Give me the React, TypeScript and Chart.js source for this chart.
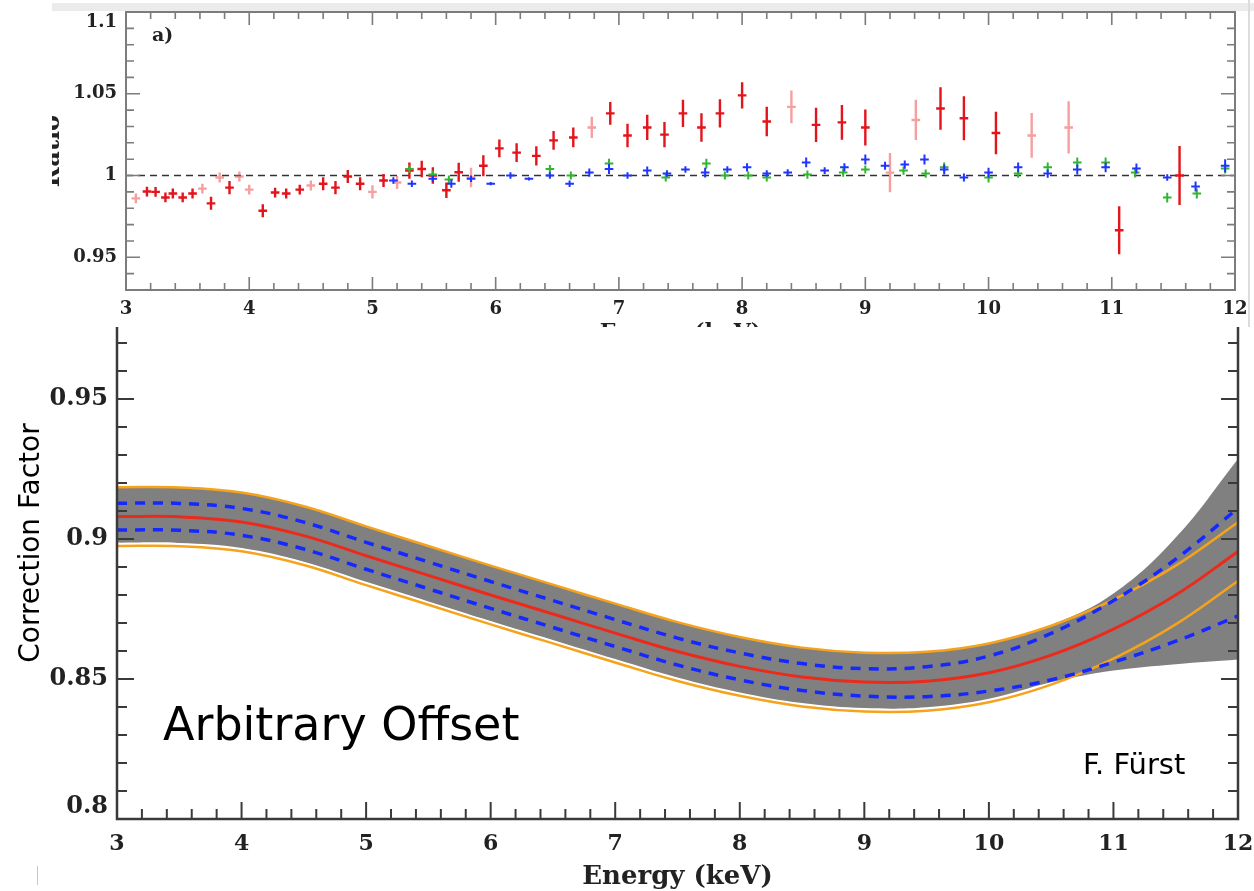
import React, { useEffect, useRef } from 'react';
import { Chart, registerables } from 'chart.js';

Chart.register(...registerables);

const SERIF = "'DejaVu Serif', 'Liberation Serif', serif";
const SANS = "'DejaVu Sans', 'Noto Sans', sans-serif";

// ---------- top panel (ratio) ----------
const ratioXTicks = [3, 4, 5, 6, 7, 8, 9, 10, 11, 12];
const ratioYTicks = [0.95, 1, 1.05, 1.1];

const redEnergy = [3.17, 3.24, 3.32, 3.38, 3.46, 3.54, 3.69, 3.84, 4.11, 4.21, 4.3, 4.41, 4.6, 4.7, 4.8, 4.9, 5.09, 5.3, 5.4, 5.49, 5.6, 5.7, 5.9, 6.03, 6.17, 6.33, 6.47, 6.63, 6.93, 7.07, 7.23, 7.37, 7.52, 7.67, 7.82, 8.0, 8.2, 8.6, 8.81, 9.0, 9.61, 9.8, 10.06, 11.06, 11.55];
const redRatio = [0.9902, 0.99, 0.9866, 0.989, 0.9866, 0.989, 0.983, 0.9926, 0.9785, 0.9896, 0.989, 0.9914, 0.995, 0.9926, 0.9994, 0.995, 0.997, 1.003, 1.004, 1.0, 0.991, 1.002, 1.006, 1.0166, 1.014, 1.012, 1.0215, 1.0233, 1.038, 1.0245, 1.0294, 1.025, 1.038, 1.0294, 1.038, 1.049, 1.033, 1.031, 1.0325, 1.0294, 1.041, 1.035, 1.026, 0.9665, 1.0];
const redError = [0.003, 0.003, 0.003, 0.003, 0.003, 0.003, 0.004, 0.004, 0.004, 0.003, 0.003, 0.003, 0.004, 0.004, 0.004, 0.004, 0.004, 0.005, 0.005, 0.005, 0.0048, 0.0058, 0.0064, 0.0054, 0.0058, 0.0059, 0.0058, 0.006, 0.007, 0.0072, 0.0077, 0.0077, 0.0084, 0.0087, 0.0087, 0.008, 0.009, 0.0105, 0.0106, 0.011, 0.013, 0.0135, 0.013, 0.0147, 0.018];

const redFadedEnergy = [3.08, 3.62, 3.76, 3.92, 4.0, 4.5, 5.0, 5.2, 5.8, 6.78, 8.4, 9.2, 9.41, 10.35, 10.65];
const redFadedRatio = [0.986, 0.992, 0.9988, 0.9994, 0.9914, 0.9939, 0.99, 0.9957, 0.9988, 1.0294, 1.042, 1.0018, 1.034, 1.0245, 1.0294];
const redFadedError = [0.003, 0.003, 0.003, 0.003, 0.003, 0.003, 0.004, 0.004, 0.006, 0.0065, 0.01, 0.012, 0.0123, 0.0137, 0.016];

const greenEnergy = [5.3, 5.49, 5.62, 6.44, 6.61, 6.92, 7.38, 7.71, 7.86, 8.05, 8.2, 8.53, 8.82, 9.0, 9.31, 9.49, 9.64, 10.0, 10.24, 10.48, 10.72, 10.95, 11.19, 11.45, 11.69, 11.92];
const greenRatio = [1.004, 1.0006, 0.9975, 1.004, 1.0, 1.0073, 0.9988, 1.0073, 1.0, 1.0, 0.9988, 1.0006, 1.0018, 1.0037, 1.003, 1.0012, 1.005, 0.9988, 1.0012, 1.005, 1.008, 1.008, 1.0018, 0.9865, 0.989, 1.0043];
const greenError = [0.0025, 0.0025, 0.0025, 0.0025, 0.0025, 0.003, 0.0025, 0.003, 0.0025, 0.0025, 0.0025, 0.0025, 0.0025, 0.0025, 0.0025, 0.0025, 0.003, 0.003, 0.0025, 0.003, 0.003, 0.003, 0.003, 0.003, 0.003, 0.003];

const blueEnergy = [5.17, 5.32, 5.49, 5.64, 5.8, 5.96, 6.12, 6.27, 6.44, 6.6, 6.76, 6.92, 7.07, 7.23, 7.39, 7.54, 7.7, 7.88, 8.04, 8.2, 8.37, 8.52, 8.67, 8.83, 9.0, 9.16, 9.32, 9.48, 9.64, 9.8, 10.0, 10.24, 10.48, 10.72, 10.95, 11.2, 11.45, 11.68, 11.92];
const blueRatio = [0.997, 0.995, 0.998, 0.995, 0.998, 0.995, 1.0, 0.998, 1.0, 0.995, 1.0018, 1.004, 1.0, 1.003, 1.0012, 1.0037, 1.0018, 1.0037, 1.005, 1.0012, 1.0018, 1.008, 1.003, 1.005, 1.0098, 1.006, 1.0067, 1.0098, 1.0037, 0.9988, 1.0018, 1.005, 1.0012, 1.0037, 1.005, 1.0043, 0.9988, 0.9933, 1.006];
const blueError = [0.002, 0.002, 0.002, 0.0025, 0.002, 0.001, 0.002, 0.001, 0.002, 0.002, 0.0025, 0.003, 0.002, 0.0025, 0.002, 0.002, 0.003, 0.002, 0.0025, 0.002, 0.002, 0.003, 0.002, 0.0025, 0.003, 0.0025, 0.0025, 0.003, 0.003, 0.0025, 0.003, 0.003, 0.0025, 0.003, 0.003, 0.003, 0.002, 0.003, 0.004];

// ---------- bottom panel (correction factor) ----------
const cfXTicks = [3, 4, 5, 6, 7, 8, 9, 10, 11, 12];
const cfYTicks = [0.8, 0.85, 0.9, 0.95];
const cfEnergy = [3, 3.5, 4, 4.5, 5, 5.5, 6, 6.5, 7, 7.5, 8, 8.5, 9, 9.5, 10, 10.5, 11, 11.5, 12];
const cfMedian = [0.908, 0.9079, 0.9061, 0.9012, 0.894, 0.887, 0.88, 0.8732, 0.8664, 0.8598, 0.8545, 0.8507, 0.8489, 0.8492, 0.8522, 0.8585, 0.8678, 0.88, 0.8955];
const cfInnerUpper = [0.9128, 0.9127, 0.9109, 0.906, 0.8988, 0.8918, 0.8848, 0.878, 0.8712, 0.8646, 0.8593, 0.8555, 0.8537, 0.8544, 0.8582, 0.8663, 0.878, 0.8928, 0.911];
const cfInnerLower = [0.9032, 0.9031, 0.9013, 0.8964, 0.8892, 0.8822, 0.8752, 0.8684, 0.8616, 0.855, 0.8497, 0.8459, 0.8439, 0.8437, 0.8457, 0.8497, 0.856, 0.8635, 0.8725];
const cfOuterUpper = [0.9185, 0.9184, 0.9166, 0.9117, 0.9045, 0.8975, 0.8905, 0.8837, 0.8769, 0.8703, 0.865, 0.8612, 0.8594, 0.8597, 0.8627, 0.869, 0.8783, 0.8905, 0.906];
const cfOuterLower = [0.8975, 0.8974, 0.8956, 0.8907, 0.8835, 0.8765, 0.8695, 0.8627, 0.8559, 0.8493, 0.844, 0.8402, 0.8384, 0.8387, 0.8417, 0.848, 0.8573, 0.8695, 0.885];
const cfSamplesTop = [0.9185, 0.9184, 0.9166, 0.9117, 0.9045, 0.8975, 0.8905, 0.8837, 0.8769, 0.8703, 0.865, 0.8612, 0.8594, 0.8597, 0.8627, 0.8693, 0.8805, 0.9005, 0.9286];
const cfSamplesBottom = [0.8987, 0.8986, 0.8968, 0.8919, 0.8847, 0.8777, 0.8707, 0.8639, 0.8571, 0.8505, 0.8452, 0.8414, 0.8396, 0.8399, 0.8429, 0.8488, 0.853, 0.8553, 0.857];

const pts = (xs: number[], ys: number[], es?: number[]) =>
  xs.map((x, i) => (es ? { x, y: ys[i], e: es[i] } : { x, y: ys[i] }));

// ---------- plugins ----------
const errorBarPlugin = {
  id: 'errorBars',
  afterDatasetsDraw(chart: any) {
    const { ctx, chartArea: a } = chart;
    const xs = chart.scales.x;
    const ys = chart.scales.y;
    ctx.save();
    ctx.beginPath();
    ctx.rect(a.left, a.top, a.right - a.left, a.bottom - a.top);
    ctx.clip();
    chart.data.datasets.forEach((ds: any) => {
      if (!ds.errorBars) return;
      ctx.strokeStyle = ds.borderColor;
      ctx.lineWidth = ds.borderWidth;
      ds.data.forEach((p: any) => {
        const px = xs.getPixelForValue(p.x);
        const py = ys.getPixelForValue(p.y);
        const y1 = ys.getPixelForValue(p.y + p.e);
        const y2 = ys.getPixelForValue(p.y - p.e);
        const x1 = xs.getPixelForValue(p.x - ds.xErr);
        const x2 = xs.getPixelForValue(p.x + ds.xErr);
        ctx.beginPath();
        ctx.moveTo(px, y1);
        ctx.lineTo(px, y2);
        ctx.moveTo(x1, py);
        ctx.lineTo(x2, py);
        ctx.stroke();
      });
    });
    ctx.restore();
  },
};

const framePlugin = {
  id: 'frameTicks',
  afterDatasetsDraw(chart: any, _args: any, o: any) {
    const { ctx, chartArea: a } = chart;
    const xs = chart.scales.x;
    const ys = chart.scales.y;
    ctx.save();
    ctx.strokeStyle = o.color;
    ctx.lineWidth = o.width;
    ctx.lineCap = 'square';
    ctx.beginPath();
    ctx.moveTo(a.left, a.top);
    ctx.lineTo(a.left, a.bottom);
    ctx.lineTo(a.right, a.bottom);
    ctx.lineTo(a.right, a.top);
    if (o.drawTop) ctx.lineTo(a.left, a.top);
    ctx.stroke();
    ctx.lineCap = 'butt';
    ctx.lineWidth = o.tickWidth;
    const isMajor = (list: number[], v: number) => list.some((m) => Math.abs(m - v) < 1e-6);
    ctx.beginPath();
    const nx = Math.round((xs.max - xs.min) / o.xMinorStep);
    for (let i = 0; i <= nx; i++) {
      const v = xs.min + i * o.xMinorStep;
      const len = isMajor(o.xMajor, v) ? o.majorLen : o.minorLen;
      const px = xs.getPixelForValue(v);
      ctx.moveTo(px, a.bottom);
      ctx.lineTo(px, a.bottom - len);
      if (o.drawTop) {
        ctx.moveTo(px, a.top);
        ctx.lineTo(px, a.top + len);
      }
    }
    const start = Math.ceil(ys.min / o.yMinorStep - 1e-6);
    const end = Math.floor(ys.max / o.yMinorStep + 1e-6);
    for (let k = start; k <= end; k++) {
      const v = k * o.yMinorStep;
      const len = isMajor(o.yMajor, v) ? o.majorLen + o.yExtra : o.minorLen + o.yExtra;
      const py = ys.getPixelForValue(v);
      ctx.moveTo(a.left, py);
      ctx.lineTo(a.left + len, py);
      ctx.moveTo(a.right, py);
      ctx.lineTo(a.right - len, py);
    }
    ctx.stroke();
    if (o.corner) {
      ctx.fillStyle = '#222';
      ctx.font = `bold 19px ${SERIF}`;
      ctx.textBaseline = 'middle';
      ctx.fillText(o.corner, a.left + 26, a.top + 24);
    }
    ctx.restore();
  },
};

const noPadY = (w: number) => (s: any) => {
  s.width = w;
  s.paddingTop = 0;
  s.paddingBottom = 0;
};
const noPadX = (h: number) => (s: any) => {
  s.height = h;
  s.paddingLeft = 0;
  s.paddingRight = 0;
};

// edge labels are nudged inside the frame (as in the original figure) with an empty extra line
const ratioYLabel = (v: any) => (Math.abs(v - 1.1) < 1e-6 ? ['', String(v)] : String(v));
const cfYLabel = (v: any) => (Math.abs(v - 0.8) < 1e-6 ? [String(v), ''] : String(v));

function topConfig(): any {
  const ebar = { showLine: false, pointRadius: 0, errorBars: true, xErr: 0.035 };
  return {
    type: 'scatter',
    data: {
      datasets: [
        { ...ebar, label: 'red', data: pts(redEnergy, redRatio, redError), borderColor: '#e3141b', borderWidth: 2.4 },
        { ...ebar, label: 'red faded', data: pts(redFadedEnergy, redFadedRatio, redFadedError), borderColor: 'rgba(236,80,80,0.55)', borderWidth: 2.4 },
        { ...ebar, label: 'green', data: pts(greenEnergy, greenRatio, greenError), borderColor: '#2fb52f', borderWidth: 2 },
        { ...ebar, label: 'blue', data: pts(blueEnergy, blueRatio, blueError), borderColor: '#1f35ff', borderWidth: 2 },
        {
          type: 'line', label: 'unity', data: [{ x: 3, y: 1 }, { x: 12, y: 1 }],
          borderColor: '#333', borderWidth: 1.6, borderDash: [7, 5], pointRadius: 0,
        },
      ],
    },
    options: {
      animation: false,
      responsive: false,
      devicePixelRatio: 1,
      events: [],
      layout: { padding: { top: 12, right: 19, left: 0, bottom: 0 } },
      plugins: {
        legend: { display: false },
        tooltip: { enabled: false },
        frameTicks: {
          color: '#7c7c7c', width: 2, tickWidth: 1.6, drawTop: true,
          xMajor: ratioXTicks, xMinorStep: 0.2, yMajor: ratioYTicks, yMinorStep: 0.01,
          majorLen: 13, minorLen: 7, yExtra: 1, corner: 'a)',
        },
      },
      scales: {
        x: {
          type: 'linear', min: 3, max: 12,
          afterBuildTicks: (s: any) => { s.ticks = ratioXTicks.map((v) => ({ value: v })); },
          afterFit: noPadX(60),
          grid: { display: false, drawTicks: false },
          border: { display: false },
          ticks: { font: { family: SERIF, size: 18, weight: 'bold' }, color: '#222', padding: 9, maxRotation: 0 },
          title: { display: true, text: 'Energy (keV)', font: { family: SERIF, size: 22, weight: 'bold' }, color: '#222', padding: { top: 0, bottom: 4 } },
        },
        y: {
          type: 'linear', min: 0.93, max: 1.1,
          afterBuildTicks: (s: any) => { s.ticks = ratioYTicks.map((v) => ({ value: v })); },
          afterFit: noPadY(126),
          grid: { display: false, drawTicks: false },
          border: { display: false },
          ticks: { font: { family: SERIF, size: 18, weight: 'bold' }, color: '#222', padding: 9, callback: ratioYLabel },
          title: { display: true, text: 'Ratio', font: { family: SERIF, size: 24, weight: 'bold' }, color: '#222', padding: { top: 38, bottom: 0 } },
        },
      },
    },
    plugins: [errorBarPlugin, framePlugin],
  };
}

function bottomConfig(): any {
  const line = { pointRadius: 0, tension: 0.4, fill: false };
  return {
    type: 'line',
    data: {
      datasets: [
        { ...line, label: 'median', data: pts(cfEnergy, cfMedian), borderColor: '#ec2a1c', borderWidth: 3 },
        { ...line, label: 'inner upper', data: pts(cfEnergy, cfInnerUpper), borderColor: '#1428ff', borderWidth: 3.5, borderDash: [10, 8] },
        { ...line, label: 'inner lower', data: pts(cfEnergy, cfInnerLower), borderColor: '#1428ff', borderWidth: 3.5, borderDash: [10, 8] },
        { ...line, label: 'outer upper', data: pts(cfEnergy, cfOuterUpper), borderColor: '#f5a31c', borderWidth: 2.5 },
        { ...line, label: 'outer lower', data: pts(cfEnergy, cfOuterLower), borderColor: '#f5a31c', borderWidth: 2.5 },
        { ...line, label: 'samples top', data: pts(cfEnergy, cfSamplesTop), borderColor: 'rgba(0,0,0,0)', borderWidth: 0, backgroundColor: '#808080', fill: '+1' },
        { ...line, label: 'samples bottom', data: pts(cfEnergy, cfSamplesBottom), borderColor: 'rgba(0,0,0,0)', borderWidth: 0 },
      ],
    },
    options: {
      animation: false,
      responsive: false,
      devicePixelRatio: 1,
      events: [],
      layout: { padding: { top: 0, right: 16, left: 0, bottom: 0 } },
      plugins: {
        legend: { display: false },
        tooltip: { enabled: false },
        frameTicks: {
          color: '#3a3a3a', width: 2.5, tickWidth: 2, drawTop: false,
          xMajor: cfXTicks, xMinorStep: 0.2, yMajor: cfYTicks, yMinorStep: 0.01,
          majorLen: 17, minorLen: 10, yExtra: 0,
        },
      },
      scales: {
        x: {
          type: 'linear', min: 3, max: 12,
          afterBuildTicks: (s: any) => { s.ticks = cfXTicks.map((v) => ({ value: v })); },
          afterFit: noPadX(72),
          grid: { display: false, drawTicks: false },
          border: { display: false },
          ticks: { font: { family: SERIF, size: 22, weight: 'bold' }, color: '#222', padding: 12, maxRotation: 0 },
          title: { display: true, text: 'Energy (keV)', font: { family: SERIF, size: 26, weight: 'bold', lineHeight: 1 }, color: '#222', padding: { top: 0, bottom: 1 } },
        },
        y: {
          type: 'linear', min: 0.8, max: 0.9757,
          afterBuildTicks: (s: any) => { s.ticks = cfYTicks.map((v) => ({ value: v })); },
          afterFit: noPadY(117),
          grid: { display: false, drawTicks: false },
          border: { display: false },
          ticks: { font: { family: SERIF, size: 24, weight: 'bold', lineHeight: 1 }, color: '#222', padding: 9, callback: cfYLabel },
        },
      },
    },
    plugins: [framePlugin],
  };
}

export default function App() {
  const topRef = useRef<HTMLCanvasElement>(null);
  const botRef = useRef<HTMLCanvasElement>(null);

  useEffect(() => {
    const c1 = new Chart(topRef.current as HTMLCanvasElement, topConfig());
    const c2 = new Chart(botRef.current as HTMLCanvasElement, bottomConfig());
    return () => {
      c1.destroy();
      c2.destroy();
    };
  }, []);

  return (
    <div style={{ position: 'absolute', left: 0, top: 0, width: 1254, height: 891, overflow: 'hidden', background: '#fff' }}>
      <div style={{ position: 'absolute', left: 52, top: 0, width: 1202, height: 328, overflow: 'hidden', background: '#fff' }}>
        <div style={{ position: 'absolute', left: 0, top: 3, width: 1202, height: 8, background: '#ebebeb' }} />
        <canvas ref={topRef} width={1254} height={350} style={{ position: 'absolute', left: -52, top: 0, width: 1254, height: 350 }} />
        <div style={{ position: 'absolute', left: 1196, top: 0, width: 2, height: 328, background: '#dcdcdc' }} />
      </div>
      <div style={{ position: 'absolute', left: 0, top: 327, width: 1254, height: 564, background: '#fff' }}>
        <canvas ref={botRef} width={1254} height={564} style={{ position: 'absolute', left: 0, top: 0, width: 1254, height: 564 }} />
        <div
          style={{
            position: 'absolute', left: -110, top: 199, width: 280, height: 34, lineHeight: '34px',
            textAlign: 'center', transform: 'rotate(-90deg)', fontFamily: SANS, fontSize: 28, color: '#000', whiteSpace: 'nowrap',
          }}
        >
          Correction Factor
        </div>
        <div style={{ position: 'absolute', left: 163, top: 374, fontFamily: SANS, fontSize: 46, lineHeight: 1, color: '#000', whiteSpace: 'nowrap' }}>
          Arbitrary Offset
        </div>
        <div style={{ position: 'absolute', left: 1083, top: 423, fontFamily: SANS, fontSize: 29, lineHeight: 1, color: '#000', whiteSpace: 'nowrap' }}>
          F. Fürst
        </div>
        <div style={{ position: 'absolute', left: 37, top: 539, width: 1, height: 19, background: '#c8c8c8' }} />
      </div>
    </div>
  );
}
